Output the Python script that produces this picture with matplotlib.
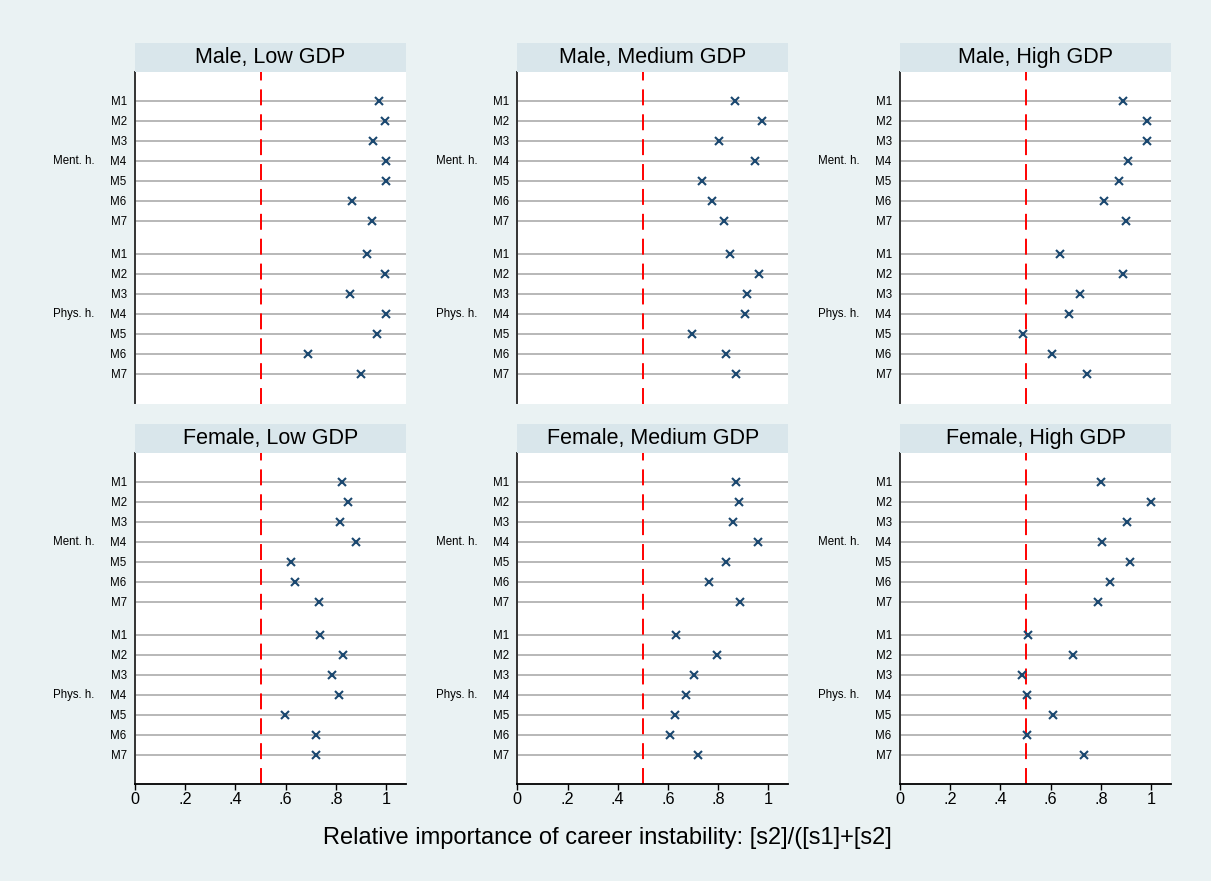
import matplotlib
matplotlib.use('Agg')
import matplotlib.pyplot as plt

plt.rcParams['font.family'] = ['Liberation Sans', 'DejaVu Sans']

# values, order M1..M7
items = ['M1', 'M2', 'M3', 'M4', 'M5', 'M6', 'M7']
groups = ['Ment. h.', 'Phys. h.']
titles = ['Male, Low GDP', 'Male, Medium GDP', 'Male, High GDP',
          'Female, Low GDP', 'Female, Medium GDP', 'Female, High GDP']

male_low_ment = [0.973, 0.997, 0.948, 0.998, 0.998, 0.864, 0.943]
male_low_phys = [0.922, 0.996, 0.856, 0.998, 0.964, 0.689, 0.898]
male_med_ment = [0.865, 0.975, 0.805, 0.947, 0.737, 0.774, 0.823]
male_med_phys = [0.845, 0.964, 0.914, 0.908, 0.696, 0.830, 0.869]
male_high_ment = [0.888, 0.983, 0.984, 0.908, 0.870, 0.811, 0.900]
male_high_phys = [0.637, 0.888, 0.718, 0.672, 0.490, 0.604, 0.744]
female_low_ment = [0.824, 0.848, 0.817, 0.878, 0.622, 0.638, 0.732]
female_low_phys = [0.737, 0.828, 0.784, 0.813, 0.598, 0.719, 0.721]
female_med_ment = [0.871, 0.881, 0.859, 0.958, 0.830, 0.762, 0.887]
female_med_phys = [0.631, 0.794, 0.705, 0.673, 0.628, 0.608, 0.720]
female_high_ment = [0.801, 1.000, 0.904, 0.806, 0.915, 0.837, 0.789]
female_high_phys = [0.511, 0.690, 0.486, 0.507, 0.610, 0.507, 0.732]

panels = [(male_low_ment, male_low_phys), (male_med_ment, male_med_phys),
          (male_high_ment, male_high_phys), (female_low_ment, female_low_phys),
          (female_med_ment, female_med_phys), (female_high_ment, female_high_phys)]

xticks = [0, 0.2, 0.4, 0.6, 0.8, 1.0]
xticklabels = ['0', '.2', '.4', '.6', '.8', '1']
xlabel = 'Relative importance of career instability: [s2]/([s1]+[s2]'

bg = '#eaf2f3'
strip = '#d9e6eb'
navy = '#1a476f'

W, H = 1211, 881
fig = plt.figure(figsize=(W / 100, H / 100), dpi=100, facecolor=bg)


def px_axes(left, top, width, height):
    return fig.add_axes([left / W, 1 - (top + height) / H, width / W, height / H])


col_left = [135, 517.3, 900]
row_top = [72, 452.7]
aw, ah = 271, 331.5
strip_h = 28.7

gap = 1.65
ypos_ment = list(range(7))
ypos_phys = [6 + gap + i for i in range(7)]

for k, (ment, phys) in enumerate(panels):
    r, c = divmod(k, 3)
    ax = px_axes(col_left[c], row_top[r], aw, ah)
    ax.set_facecolor('white')

    ys = ypos_ment + ypos_phys
    for y in ys:
        ax.axhline(y, color='#a4a4a4', lw=1.1, zorder=1)
    ax.axvline(0.5, color='#ff0000', lw=1.4, dashes=(8.2, 4.6), zorder=2)
    ax.plot(ment + phys, ys, linestyle='none', marker='x', color=navy,
            markersize=6, mew=1.5, zorder=3)

    ax.set_xlim(0, 1.079)
    ax.set_ylim(ypos_phys[-1] + 1.48, -1.45)
    ax.set_yticks(ys)
    ax.set_yticklabels(items + items, fontsize=8.3)
    ax.tick_params(axis='y', length=0, pad=6)

    for s in ['top', 'right']:
        ax.spines[s].set_visible(False)
    ax.spines['left'].set_color('#333333')
    ax.spines['left'].set_linewidth(1.4)

    if r == 1:
        ax.set_xticks(xticks)
        ax.set_xticklabels(xticklabels, fontsize=11.7)
        ax.tick_params(axis='x', length=4.3, width=1.0, pad=1.5)
        ax.spines['bottom'].set_color('black')
        ax.spines['bottom'].set_linewidth(1.3)
    else:
        ax.set_xticks([])
        ax.spines['bottom'].set_visible(False)

    for g, yl in zip(groups, [ypos_ment[3], ypos_phys[3]]):
        ax.text(-0.3015, yl, g, transform=ax.get_yaxis_transform(),
                ha='left', va='center', fontsize=8.3)

    sax = px_axes(col_left[c], row_top[r] - strip_h, aw, strip_h)
    sax.set_facecolor(strip)
    sax.set_xticks([])
    sax.set_yticks([])
    for s in sax.spines.values():
        s.set_visible(False)
    sax.text(0.5, 0.317, titles[k], ha='center', va='baseline', fontsize=15.5,
             transform=sax.transAxes)

fig.text(607.7 / W, 1 - 844 / H, xlabel, ha='center', va='baseline', fontsize=17)

fig.savefig('out.png', dpi=100, facecolor=bg)
